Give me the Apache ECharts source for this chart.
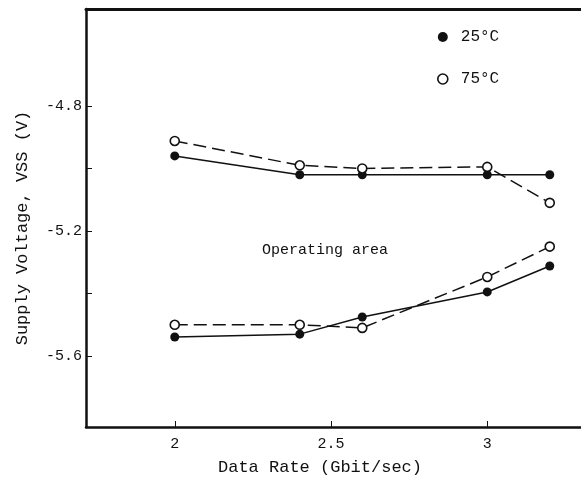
<!DOCTYPE html>
<html><head><meta charset="utf-8">
<script src="https://cdn.jsdelivr.net/npm/echarts@6/dist/echarts.min.js"></script>
<style>html,body{margin:0;padding:0;background:#fff}#c{width:581px;height:485px}</style>
</head><body><div id="c"></div>
<script>
const dataRates = [2.0, 2.4, 2.6, 3.0, 3.2];
const upper25 = [-4.96, -5.02, -5.02, -5.02, -5.02];
const upper75 = [-4.912, -4.99, -5.0, -4.995, -5.11];
const lower25 = [-5.539, -5.53, -5.475, -5.395, -5.312];
const lower75 = [-5.50, -5.50, -5.51, -5.347, -5.25];
const yLabelValues = [-4.8, -5.2, -5.6];
const yTickValues = [-4.8, -5.0, -5.2, -5.4, -5.6];
const xLabelValues = [2, 2.5, 3];

const FONT = '"Liberation Mono", "DejaVu Sans Mono", monospace';
const INK = '#111';
const pts = ys => dataRates.map((x, i) => [x, ys[i]]);

const filled = {symbol: 'circle', symbolSize: 9, itemStyle: {color: INK, borderColor: INK, borderWidth: 0}};
const hollow = {symbol: 'circle', symbolSize: 9, itemStyle: {color: '#fff', borderColor: INK, borderWidth: 1.6}};
const solidLine = {color: INK, width: 1.5, type: 'solid'};
const dashLine = {color: INK, width: 1.5, type: [13, 6]};

const chart = echarts.init(document.getElementById('c'), null, {renderer: 'canvas'});
chart.setOption({
  backgroundColor: '#fff',
  animation: false,
  grid: {left: 86, right: 0, top: 9, bottom: 58, containLabel: false},
  xAxis: [{
    type: 'value', min: 1.716, max: 3.3, position: 'bottom',
    axisLine: {show: true, lineStyle: {color: INK, width: 2.5}},
    axisTick: {show: true, inside: true, length: 6, customValues: xLabelValues, lineStyle: {color: INK, width: 1}},
    axisLabel: {show: true, customValues: xLabelValues, color: INK, fontFamily: FONT, fontSize: 15, margin: 10,
      formatter: v => String(v)},
    splitLine: {show: false}
  }, {
    type: 'value', min: 1.716, max: 3.3, position: 'top',
    axisLine: {show: true, lineStyle: {color: INK, width: 3}},
    axisTick: {show: false}, axisLabel: {show: false}, splitLine: {show: false}
  }],
  yAxis: {
    type: 'value', min: -5.827, max: -4.49,
    axisLine: {show: true, lineStyle: {color: INK, width: 2.5}},
    axisTick: {show: true, inside: true, length: 6, customValues: yTickValues, lineStyle: {color: INK, width: 1}},
    axisLabel: {show: true, customValues: yLabelValues, color: INK, fontFamily: FONT, fontSize: 15, margin: 4,
      formatter: v => v.toFixed(1)},
    splitLine: {show: false}
  },
  legend: {
    orient: 'vertical', left: 432, top: 24, itemGap: 26, itemWidth: 10, itemHeight: 10,
    textStyle: {fontFamily: FONT, fontSize: 16, color: INK, padding: [0, 0, 0, 8]},
    data: [
      {name: '25°C', icon: 'circle', itemStyle: {color: INK, borderWidth: 0}},
      {name: '75°C', icon: 'circle', itemStyle: {color: '#fff', borderColor: INK, borderWidth: 1.6}}
    ]
  },
  series: [
    Object.assign({type: 'line', name: '25°C', data: pts(upper25), lineStyle: solidLine}, filled),
    Object.assign({type: 'line', name: '25°C', data: pts(lower25), lineStyle: solidLine}, filled),
    Object.assign({type: 'line', name: '75°C', data: pts(upper75), lineStyle: dashLine}, hollow),
    Object.assign({type: 'line', name: '75°C', data: pts(lower75), lineStyle: dashLine}, hollow)
  ],
  graphic: [
    {type: 'text', left: 262, top: 243, style: {text: 'Operating area', font: '15px ' + FONT, fill: INK}},
    {type: 'text', x: 320, y: 467, style: {text: 'Data Rate (Gbit/sec)', font: '17px ' + FONT, fill: INK, align: 'center', verticalAlign: 'middle'}},
    {type: 'text', x: 22, y: 228, rotation: Math.PI / 2, style: {text: 'Supply Voltage, VSS (V)', font: '17px ' + FONT, fill: INK, align: 'center', verticalAlign: 'middle'}}
  ]
});
</script></body></html>
